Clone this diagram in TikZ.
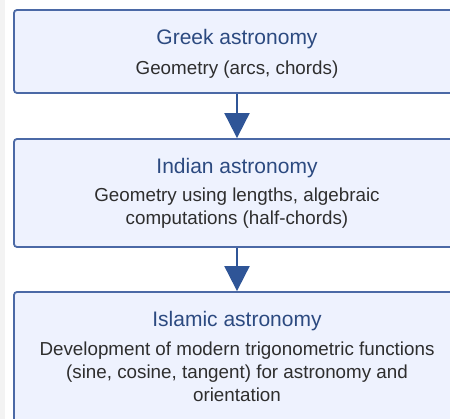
\documentclass[tikz,border=0pt]{standalone}
\usepackage{fontspec}
\setmainfont{Liberation Sans}
\usetikzlibrary{arrows.meta}
\definecolor{boxline}{HTML}{4B69A6}
\definecolor{boxfill}{HTML}{EEF2FE}
\definecolor{titleblue}{HTML}{2C4A80}
\definecolor{arrowblue}{HTML}{2F5597}
\definecolor{bodygray}{HTML}{2E2E2E}
\definecolor{stripgray}{HTML}{F3F3F3}

\begin{document}
\begin{tikzpicture}[x=1pt,y=-1pt,
    stage/.style={draw=boxline,fill=boxfill,line width=1.8pt,rounded corners=3pt,minimum width=446pt,inner sep=0pt},
    title/.style={anchor=base,text=titleblue,font=\fontsize{21}{24}\selectfont,inner sep=0pt},
    detail/.style={anchor=base,text=bodygray,align=center,font=\fontsize{18.8}{23.3}\selectfont,inner sep=0pt},
    flow/.style={draw=arrowblue,line width=2pt,-{Triangle[width=25pt,length=25pt]}}]
    \clip (0,0) rectangle (450,419);
    \fill[white] (0,0) rectangle (450,419);
    \fill[stripgray] (0,0) rectangle (5,419);

    % Stages
    \node[stage,minimum height=83pt] (greek) at (237,51.5) {};
    \node[stage,minimum height=108pt] (indian) at (237,193) {};
    \node[stage,minimum height=140pt] (islamic) at (237,362) {};

    % Texts (base = baseline of the last line)
    \node[title] (greekT) at (237,45) {Greek astronomy};
    \node[detail] (greekD) at (237,75) {Geometry (arcs, chords)};

    \node[title] (indianT) at (237,174) {Indian astronomy};
    \node[detail] (indianD) at (237,225) {Geometry using lengths, algebraic\\computations (half-chords)};

    \node[title] (islamicT) at (237,327) {Islamic astronomy};
    \node[detail] (islamicD) at (237,402) {Development of modern trigonometric functions\\(sine, cosine, tangent) for astronomy and\\orientation};

    % Arrows
    \draw[flow] (greek.south) -- (indian.north);
    \draw[flow] (indian.south) -- (islamic.north);
\end{tikzpicture}
\end{document}
